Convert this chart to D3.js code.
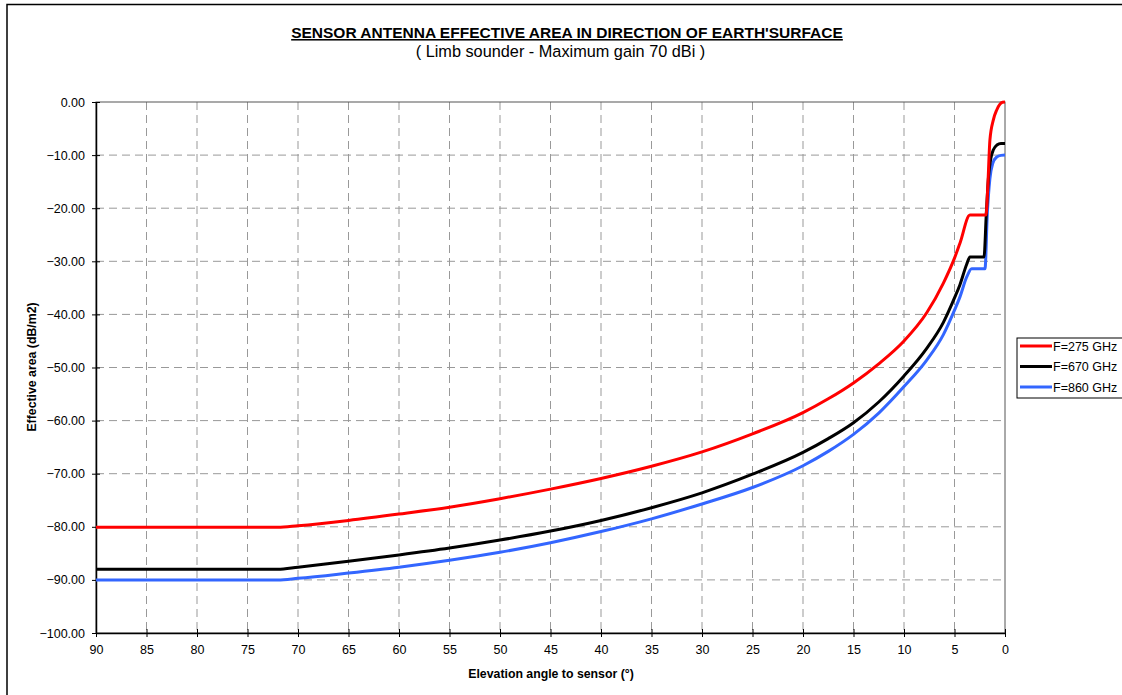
<!DOCTYPE html>
<html>
<head>
<meta charset="utf-8">
<script src="https://cdn.jsdelivr.net/npm/d3@7"></script>
<style>
body { margin: 0; background: #fff; }
svg { display: block; font-family: "Liberation Sans", Arial, sans-serif; }
</style>
</head>
<body>
<svg id="chart" width="1122" height="695"></svg>
<script>
// ---- data ----
const title = "SENSOR ANTENNA EFFECTIVE AREA IN DIRECTION OF EARTH'SURFACE";
const subtitle = "( Limb sounder - Maximum gain 70 dBi )";
const xTitle = "Elevation angle to sensor (°)";
const yTitle = "Effective area (dB/m2)";
const xTicks = [90, 85, 80, 75, 70, 65, 60, 55, 50, 45, 40, 35, 30, 25, 20, 15, 10, 5, 0];
const yTicks = [0, -10, -20, -30, -40, -50, -60, -70, -80, -90, -100];
const seriesNames = ["F=275 GHz", "F=670 GHz", "F=860 GHz"];
const seriesColors = ["#ff0000", "#000000", "#3366ff"];

const angles275 = [90, 72, 70, 65, 60, 55, 50, 45, 40, 35, 30, 25, 20, 17.5, 15, 12.5, 10, 7.75, 6.1, 5, 4.46, 3.47, 1.88, 1.72, 1.49, 1.16, 0.82, 0.5, 0.25, 0];
const values275 = [-80.1, -80.1, -79.8, -78.8, -77.6, -76.3, -74.7, -72.9, -70.9, -68.6, -65.9, -62.5, -58.5, -55.9, -52.9, -49.3, -45.0, -39.7, -34.1, -29.4, -26.6, -21.3, -21.3, -16.6, -7.1, -3.4, -1.5, -0.4, -0.05, 0];

const angles670 = [90, 72, 70, 65, 60, 55, 50, 45, 40, 35, 30, 25, 20, 17.5, 15, 12.5, 10, 7.75, 6.1, 5, 4.46, 3.8, 3.47, 2.08, 1.85, 1.62, 1.4, 1.15, 0.8, 0.4, 0];
const values670 = [-88.0, -88.0, -87.6, -86.5, -85.3, -84.0, -82.5, -80.8, -78.8, -76.4, -73.6, -70.1, -66.0, -63.4, -60.4, -56.5, -51.6, -46.4, -41.5, -36.9, -34.4, -30.6, -29.2, -29.2, -21.0, -13.8, -10.6, -9.0, -8.1, -7.8, -7.8];

const angles860 = [90, 72, 70, 65, 60, 55, 50, 45, 40, 35, 30, 25, 20, 17.5, 15, 12.5, 10, 7.75, 6.1, 5, 4.46, 3.8, 3.3, 1.98, 1.75, 1.5, 1.2, 0.85, 0.4, 0];
const values860 = [-90.0, -90.0, -89.7, -88.7, -87.6, -86.3, -84.8, -83.0, -80.9, -78.5, -75.7, -72.6, -68.5, -65.8, -62.6, -58.6, -53.6, -48.6, -43.8, -39.2, -36.7, -33.0, -31.4, -31.4, -21.0, -14.5, -11.5, -10.4, -10.05, -10.0];

// ---- layout ----
const svg = d3.select("#chart");
const L = 96, R = 1005, T = 102, B = 633;
const x = d3.scaleLinear().domain([90, 0]).range([L, R]);
const y = d3.scaleLinear().domain([-100, 0]).range([B, T]);

// outer frame
svg.append("path").attr("d", `M7,700 L7,4.5 L1130,4.5`).attr("fill", "none").attr("stroke", "#000").attr("stroke-width", 1.5);

// titles
svg.append("text").attr("x", 567).attr("y", 38).attr("text-anchor", "middle")
  .attr("font-size", 15.5).attr("font-weight", "bold").attr("text-decoration", "underline").text(title);
svg.append("text").attr("x", 560.5).attr("y", 57).attr("text-anchor", "middle")
  .attr("font-size", 16.3).text(subtitle);

// grid
const grid = svg.append("g").attr("stroke", "#999").attr("stroke-dasharray", "8,5").attr("stroke-width", 1);
xTicks.filter(d => d !== 90 && d !== 0).forEach(d => {
  grid.append("line").attr("x1", x(d)).attr("x2", x(d)).attr("y1", T).attr("y2", B);
});
yTicks.filter(d => d !== 0 && d !== -100).forEach(d => {
  grid.append("line").attr("x1", L).attr("x2", R).attr("y1", y(d)).attr("y2", y(d));
});

// plot border
svg.append("rect").attr("x", L).attr("y", T).attr("width", R - L).attr("height", B - T)
  .attr("fill", "none").attr("stroke", "#555").attr("stroke-width", 1);

// axes
const xAxis = d3.axisBottom(x).tickValues(xTicks).tickFormat(d3.format("d")).tickSizeInner(4).tickSizeOuter(0).tickPadding(8);
const gx = svg.append("g").attr("transform", `translate(0,${B})`).call(xAxis);
gx.selectAll(".tick line").attr("y1", -4).attr("y2", 4);
const yAxis = d3.axisLeft(y).tickValues(yTicks).tickFormat(d3.format(".2f")).tickSizeInner(4).tickSizeOuter(0).tickPadding(7);
const gy = svg.append("g").attr("transform", `translate(${L},0)`).call(yAxis);
gy.selectAll(".tick line").attr("x1", -4).attr("x2", 4);
[gx, gy].forEach(g => {
  g.select(".domain").attr("stroke", "#000").attr("stroke-width", 1.5);
  g.selectAll(".tick line").attr("stroke", "#000");
  g.selectAll("text").attr("font-size", 12.5).attr("fill", "#000").attr("font-family", "Liberation Sans, Arial, sans-serif");
});

// axis titles
svg.append("text").attr("x", 551).attr("y", 678).attr("text-anchor", "middle")
  .attr("font-size", 12.3).attr("font-weight", "bold").text(xTitle);
svg.append("text").attr("transform", "translate(36,367) rotate(-90)").attr("text-anchor", "middle")
  .attr("font-size", 12.3).attr("font-weight", "bold").text(yTitle);

// series
const series = [
  { a: angles275, v: values275 },
  { a: angles670, v: values670 },
  { a: angles860, v: values860 }
];
const line = d3.line().x(d => x(d[0])).y(d => y(d[1])).curve(d3.curveMonotoneX);
[2, 1, 0].forEach(i => {
  const pts = series[i].a.map((a, j) => [a, series[i].v[j]]);
  svg.append("path").datum(pts).attr("d", line).attr("fill", "none")
    .attr("stroke", seriesColors[i]).attr("stroke-width", 3).attr("stroke-linejoin", "round");
});

// legend
const lg = svg.append("g");
lg.append("rect").attr("x", 1017).attr("y", 338).attr("width", 120).attr("height", 60)
  .attr("fill", "#fff").attr("stroke", "#000").attr("stroke-width", 1);
seriesNames.forEach((n, i) => {
  const yy = 346 + i * 20.5;
  lg.append("line").attr("x1", 1020).attr("x2", 1052).attr("y1", yy).attr("y2", yy)
    .attr("stroke", seriesColors[i]).attr("stroke-width", 3);
  lg.append("text").attr("x", 1053).attr("y", yy + 4.5).attr("font-size", 12.5).text(n);
});
</script>
</body>
</html>
